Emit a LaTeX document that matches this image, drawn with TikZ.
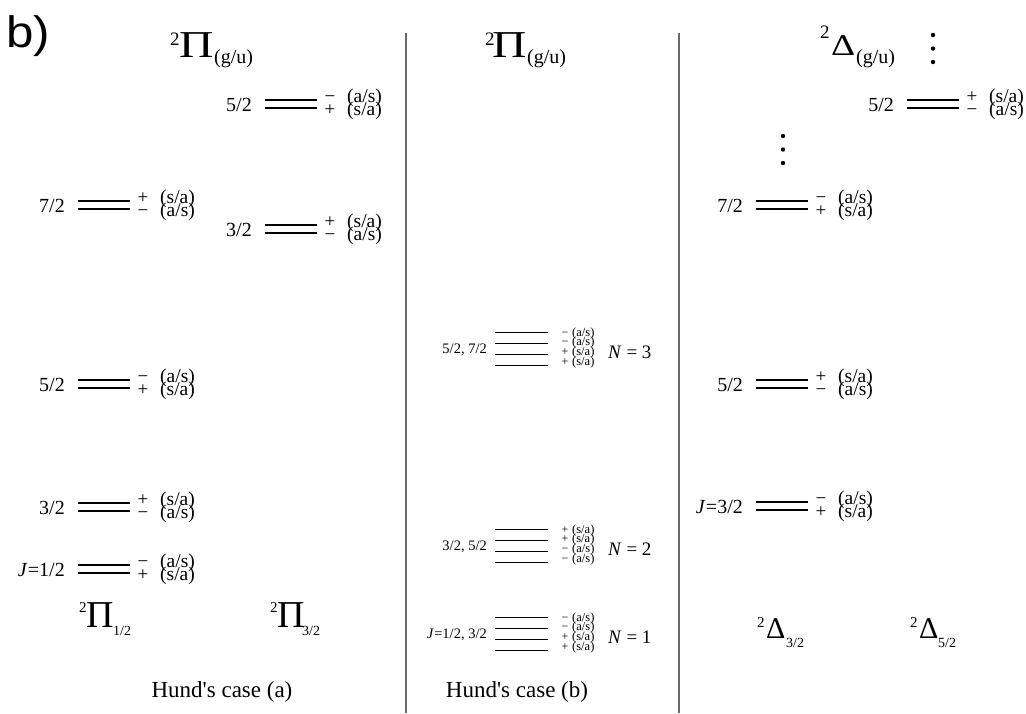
\documentclass[tikz,border=0pt]{standalone}
\usepackage{fontspec}
\setmainfont{Liberation Serif}
\newfontfamily\plainf{Liberation Serif}
\newfontfamily\labfam{Liberation Sans}
\newcommand\fs[1]{\fontsize{#1}{#1}\selectfont}
\def\sgm{−}\def\prm{(a/s)}\def\sgp{+}\def\prp{(s/a)}
\tikzset{
  lev/.style={line width=1.9pt},
  sepline/.style={line width=1.5pt, draw={rgb,255:red,105;green,105;blue,105}},
  jlab/.style={font=\fs{20}, inner sep=0pt, anchor=base east},
  sgn/.style={font=\fs{19}, inner sep=0pt, anchor=base},
  parlab/.style={font=\fs{19.5}, inner sep=0pt, anchor=base west},
  jlabB/.style={font=\fs{14.5}, inner sep=0pt, anchor=base east},
  sgnB/.style={font=\fs{12}, inner sep=0pt, anchor=base},
  parlabB/.style={font=\fs{12.5}, inner sep=0pt, anchor=base west},
  nlab/.style={font=\fs{19}, inner sep=0pt, anchor=base west},
  bw/.style={inner sep=0pt, anchor=base west},
  dotn/.style={circle, fill=black, inner sep=0pt, minimum size=4.4pt},
  caselab/.style={font=\plainf\fs{23}, inner sep=0pt, anchor=base}
}
% case (a) double level: name, x-left, y-centre, J label, top code, bottom code
\newcommand\levA[6]{%
  \draw[lev] (#2,#3-4) coordinate (#1a) -- (#2+52,#3-4) coordinate (#1b);
  \draw[lev] (#2,#3+4) coordinate (#1c) -- (#2+52,#3+4) coordinate (#1d);
  \node[jlab] (#1J) at (#2-13,#3+7) {#4};
  \node[sgn] (#1s) at (#2+65,#3-1.5) {\csname sg#5\endcsname};
  \node[parlab] (#1p) at (#2+82,#3-1.5) {\csname pr#5\endcsname};
  \node[sgn] (#1t) at (#2+65,#3+11.5) {\csname sg#6\endcsname};
  \node[parlab] (#1q) at (#2+82,#3+11.5) {\csname pr#6\endcsname};
}
% case (b) quadruple level: name, top y, J label, codes, N value
\newcommand\levB[5]{%
  \foreach \i in {0,...,3}{
    \draw[lev] (495,#2+11*\i) coordinate (#1l\i) -- (548,#2+11*\i) coordinate (#1r\i);
  }
  \foreach \k [count=\i from 0] in {#4}{
    \node[sgnB] (#1s\i) at (565,#2+9.7*\i+3.6) {\csname sg\k\endcsname};
    \node[parlabB] (#1p\i) at (572,#2+9.7*\i+3.6) {\csname pr\k\endcsname};
  }
  \node[jlabB] (#1J) at (487,#2+16.5+4.9) {#3};
  \node[nlab] (#1N) at (608,#2+26) {\textit{N} = #5};
}
\begin{document}
\begin{tikzpicture}[x=1pt,y=-1pt]
\fill[white] (0,0) rectangle (1026,713);
\path[use as bounding box] (0,0) rectangle (1026,713);

% panel label
\node[bw, font=\labfam\fs{44}] (panel) at (6,47) {\scalebox{1.12}[1]{b)}};

% separators
\coordinate (s1t) at (406,33); \coordinate (s1b) at (406,713);
\coordinate (s2t) at (679,33); \coordinate (s2b) at (679,713);
\draw[sepline] (s1t) -- (s1b);
\draw[sepline] (s2t) -- (s2b);

% headers
\node[bw, font=\fs{19}] (h1sup) at (170,45.5) {2};
\node[bw, font=\fs{38}] (h1Pi) at (179,57) {\scalebox{1.25}[1]{Π}};
\node[bw, font=\fs{20}] (h1sub) at (214,63) {(g/u)};
\node[bw, font=\fs{19}] (h2sup) at (485,45.5) {2};
\node[bw, font=\fs{38}] (h2Pi) at (492,57) {\scalebox{1.25}[1]{Π}};
\node[bw, font=\fs{20}] (h2sub) at (527,63) {(g/u)};
\node[bw, font=\fs{19}] (h3sup) at (820,38.5) {2};
\node[bw, font=\fs{30}] (h3De) at (831,55) {\scalebox{1.25}[1]{Δ}};
\node[bw, font=\fs{20}] (h3sub) at (856,63) {(g/u)};

% Hund's case (a), 2Pi_1/2 column
\levA{Aseven}{78}{205}{7/2}{p}{m}
\levA{Afive}{78}{384}{5/2}{m}{p}
\levA{Athree}{78}{507}{3/2}{p}{m}
\levA{Aone}{78}{569}{\textit{J}\kern0.5pt=1/2}{m}{p}
% 2Pi_3/2 column
\levA{Bfive}{265}{104}{5/2}{m}{p}
\levA{Bthree}{265}{229}{3/2}{p}{m}

% Hund's case (b)
\levB{Nthree}{332.5}{5/2, 7/2}{m,m,p,p}{3}
\levB{Ntwo}{529.5}{3/2, 5/2}{p,p,m,m}{2}
\levB{None}{617.5}{\textit{J}\kern0.5pt=1/2, 3/2}{m,m,p,p}{1}

% 2Delta columns
\levA{Cseven}{756}{205}{7/2}{m}{p}
\levA{Cfive}{756}{384}{5/2}{p}{m}
\levA{Cthree}{756}{506}{\textit{J}\kern0.5pt=3/2}{m}{p}
\levA{Dfive}{907}{104}{5/2}{p}{m}

% vertical ellipses
\node[dotn] (d1) at (933,35) {};
\node[dotn] (d2) at (933,48.5) {};
\node[dotn] (d3) at (933,62) {};
\node[dotn] (d4) at (783,136) {};
\node[dotn] (d5) at (783,149.5) {};
\node[dotn] (d6) at (783,163) {};

% bottom term labels
\node[bw, font=\fs{15}] (b1sup) at (79,612) {2};
\node[bw, font=\fs{38}] (b1Pi) at (86,627) {Π};
\node[bw, font=\fs{14}] (b1sub) at (113,635) {1/2};
\node[bw, font=\fs{15}] (b2sup) at (270,612) {2};
\node[bw, font=\fs{38}] (b2Pi) at (277,627) {Π};
\node[bw, font=\fs{14}] (b2sub) at (302,635) {3/2};
\node[bw, font=\fs{15}] (b3sup) at (757,627) {2};
\node[bw, font=\fs{30}] (b3De) at (766,638) {Δ};
\node[bw, font=\fs{14}] (b3sub) at (786,647) {3/2};
\node[bw, font=\fs{15}] (b4sup) at (910,627) {2};
\node[bw, font=\fs{30}] (b4De) at (919,638) {Δ};
\node[bw, font=\fs{14}] (b4sub) at (938,647) {5/2};

% case labels
\node[caselab] (casea) at (222,697) {Hund's case (a)};
\node[caselab] (caseb) at (517,697) {Hund's case (b)};
\end{tikzpicture}
\end{document}
